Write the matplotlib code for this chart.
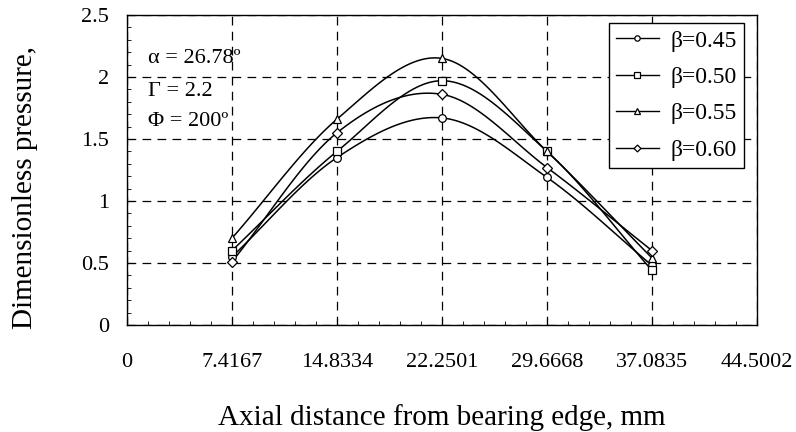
import numpy as np
import matplotlib
matplotlib.use('Agg')
import matplotlib.pyplot as plt
from matplotlib.ticker import MultipleLocator, FixedLocator

plt.rcParams['font.family'] = ['Liberation Serif', 'DejaVu Serif']

step = 7.4167
x_pos = [7.4167, 14.8334, 22.2501, 29.6668, 37.0835]
x_ticks = [0, 7.4167, 14.8334, 22.2501, 29.6668, 37.0835, 44.5002]
x_labels = ['0', '7.4167', '14.8334', '22.2501', '29.6668', '37.0835', '44.5002']

beta_labels = ['β=0.45', 'β=0.50', 'β=0.55', 'β=0.60']
p_045 = [0.55, 1.35, 1.67, 1.19, 0.48]
p_050 = [0.60, 1.40, 1.97, 1.40, 0.44]
p_055 = [0.70, 1.66, 2.15, 1.40, 0.54]
p_060 = [0.51, 1.55, 1.86, 1.27, 0.60]
markers = ['o', 's', '^', 'D']


def smooth(x, y, n=30):
    # catmull-rom through the points, like a spreadsheet "smoothed line"
    x = np.asarray(x, float)
    y = np.asarray(y, float)
    px = np.concatenate([[2 * x[0] - x[1]], x, [2 * x[-1] - x[-2]]])
    py = np.concatenate([[2 * y[0] - y[1]], y, [2 * y[-1] - y[-2]]])
    xs, ys = [], []
    t = np.linspace(0, 1, n)
    for i in range(1, len(px) - 2):
        for p, out in ((px, xs), (py, ys)):
            p0, p1, p2, p3 = p[i - 1], p[i], p[i + 1], p[i + 2]
            out.extend(0.5 * (2 * p1 + (-p0 + p2) * t + (2 * p0 - 5 * p1 + 4 * p2 - p3) * t ** 2
                              + (-p0 + 3 * p1 - 3 * p2 + p3) * t ** 3))
    return xs, ys


fig = plt.figure(figsize=(7.96, 4.32), dpi=100)
ax = fig.add_axes([0.1595, 0.2477, 0.7915, 0.7176])

for vals, m, lab in zip([p_045, p_050, p_055, p_060], markers, beta_labels):
    ms = 5.5 if m != 'D' else 5
    sx, sy = smooth(x_pos, vals)
    ax.plot(sx, sy, color='black', linewidth=1.1, zorder=3)
    ax.plot(x_pos, vals, linestyle='none', marker=m, markersize=ms,
            markerfacecolor='white', markeredgecolor='black', markeredgewidth=0.9, zorder=4)
    ax.plot([], [], color='black', linewidth=1.0, marker=m, markersize=ms * 0.7,
            markerfacecolor='white', markeredgecolor='black', markeredgewidth=0.9, label=lab)

ax.set_xlim(0, 44.5002)
ax.set_ylim(0, 2.5)
ax.xaxis.set_major_locator(FixedLocator(x_ticks))
ax.set_xticklabels(x_labels)
ax.xaxis.set_minor_locator(MultipleLocator(step / 5))
ax.yaxis.set_major_locator(MultipleLocator(0.5))
ax.yaxis.set_minor_locator(MultipleLocator(0.1))
ax.yaxis.set_major_formatter(plt.FuncFormatter(lambda v, p: f'{v:g}'))

ax.tick_params(which='both', direction='in', labelsize=16, top=False, right=False)
ax.tick_params(which='major', length=5)
ax.tick_params(which='minor', length=3)
ax.tick_params(axis='x', pad=20)
ax.tick_params(axis='y', pad=13)

ax.grid(True, which='major', color='black', linestyle=(0, (7, 5)), linewidth=0.9)
for s in ax.spines.values():
    s.set_linewidth(1)

ax.text(1.48, 2.15, 'α = 26.78º', fontsize=16, va='center')
ax.text(1.48, 1.88, 'Γ = 2.2', fontsize=16, va='center')
ax.text(1.48, 1.64, 'Φ = 200º', fontsize=16, va='center')

leg = ax.legend(loc='upper right', bbox_to_anchor=(0.979, 0.974), fontsize=17, frameon=True,
                fancybox=False, edgecolor='black', framealpha=1, handlelength=1.8,
                handletextpad=0.5, borderaxespad=0, borderpad=0.3, labelspacing=0.63)
leg.get_frame().set_linewidth(1)

ax.set_xlabel('Axial distance from bearing edge, mm', fontsize=21)
ax.xaxis.set_label_coords(0.5, -0.255)
ax.set_ylabel('Dimensionless pressure,', fontsize=21)
ax.yaxis.set_label_coords(-0.141, 0.442)

fig.savefig('out.png', dpi=100)
